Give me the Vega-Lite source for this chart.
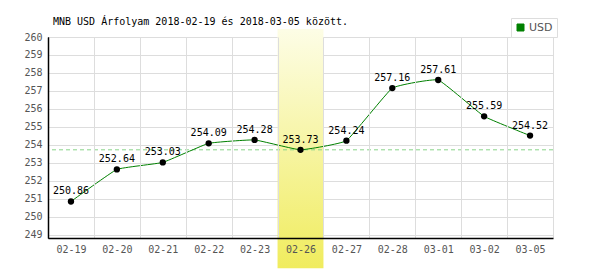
{
  "$schema": "https://vega.github.io/schema/vega-lite/v6.json",
  "width": 505,
  "height": 201,
  "autosize": {"type": "none"},
  "padding": {"left": 48, "top": 37, "right": 47, "bottom": 32},
  "background": "white",
  "title": {
    "text": "MNB USD Árfolyam 2018-02-19 és 2018-03-05 között.",
    "anchor": "start",
    "frame": "group",
    "dx": 5,
    "offset": -9,
    "font": "DejaVu Sans Mono",
    "fontSize": 10,
    "fontWeight": "normal",
    "color": "#000000"
  },
  "datasets": {
    "rates": [
      {"date": "02-19", "value": 250.86},
      {"date": "02-20", "value": 252.64},
      {"date": "02-21", "value": 253.03},
      {"date": "02-22", "value": 254.09},
      {"date": "02-23", "value": 254.28},
      {"date": "02-26", "value": 253.73},
      {"date": "02-27", "value": 254.24},
      {"date": "02-28", "value": 257.16},
      {"date": "03-01", "value": 257.61},
      {"date": "03-02", "value": 255.59},
      {"date": "03-05", "value": 254.52}
    ],
    "highlight": [{"date": "02-26", "top": 260.45, "bottom": 247.15, "ref": 253.73}]
  },
  "data": {"name": "rates"},
  "config": {
    "view": {"stroke": null}
  },
  "encoding": {
    "x": {
      "field": "date",
      "type": "ordinal",
      "title": null,
      "scale": {"type": "band", "paddingInner": 0, "paddingOuter": 0,
        "domain": ["02-19","02-20","02-21","02-22","02-23","02-26","02-27","02-28","03-01","03-02","03-05"]},
      "axis": {
        "title": null,
        "tickBand": "extent",
        "ticks": false,
        "labelAngle": 0,
        "labelPadding": 6,
        "labelFont": "DejaVu Sans Mono",
        "labelFontSize": 10,
        "labelColor": "#555555",
        "domainColor": "#000000",
        "domainWidth": 1.5,
        "zindex": 1,
        "grid": true,
        "gridColor": {"condition": {"test": "datum.index === -1", "value": "#000000"}, "value": "#dddddd"},
        "gridOpacity": 1
      }
    },
    "y": {
      "field": "value",
      "type": "quantitative",
      "title": null,
      "scale": {"domain": [248.83, 260], "nice": false, "zero": false},
      "axis": {
        "title": null,
        "values": [249,250,251,252,253,254,255,256,257,258,259,260],
        "ticks": false,
        "labelPadding": 6,
        "labelOverlap": false,
        "labelFont": "DejaVu Sans Mono",
        "labelFontSize": 10,
        "labelColor": "#555555",
        "domainColor": "#000000",
        "domainWidth": 1.5,
        "grid": true,
        "gridColor": "#dddddd",
        "gridOpacity": 1
      }
    }
  },
  "layer": [
    {
      "data": {"name": "highlight"},
      "mark": {
        "type": "rect",
        "clip": false,
        "fill": {
          "gradient": "linear",
          "x1": 0, "y1": 0, "x2": 0, "y2": 1,
          "stops": [
            {"offset": 0, "color": "#fdfde6"},
            {"offset": 1, "color": "#f0ec5e"}
          ]
        }
      },
      "encoding": {
        "y": {"field": "top", "type": "quantitative"},
        "y2": {"field": "bottom"}
      }
    },
    {
      "data": {"name": "highlight"},
      "mark": {"type": "rule", "color": "#88d488", "strokeDash": [4, 3], "strokeWidth": 1},
      "encoding": {
        "x": null,
        "y": {"field": "ref", "type": "quantitative"}
      }
    },
    {
      "mark": {"type": "line", "interpolate": "cardinal", "tension": 0.7, "strokeWidth": 1},
      "encoding": {
        "color": {
          "datum": "USD",
          "scale": {"range": ["#008000"]},
          "legend": {
            "orient": "none",
            "legendX": 463,
            "legendY": -19,
            "title": null,
            "strokeColor": "#dddddd",
            "fillColor": "#ffffff",
            "padding": 4,
            "symbolType": "square",
            "symbolSize": 49,
            "symbolFillColor": "#008000",
            "symbolStrokeColor": "#005000",
            "symbolStrokeWidth": 1,
            "labelFont": "DejaVu Sans",
            "labelFontSize": 11,
            "labelColor": "#555555",
            "labelOffset": 3,
            "encode": {
              "symbols": {"update": {"fill": {"value": "#008000"}, "stroke": {"value": "#005000"}, "shape": {"value": "square"}}}
            }
          }
        }
      }
    },
    {
      "mark": {"type": "circle", "color": "#000000", "opacity": 1, "size": 40}
    },
    {
      "mark": {"type": "text", "font": "DejaVu Sans Mono", "fontSize": 10, "color": "#000000", "dy": -7, "baseline": "alphabetic"},
      "encoding": {
        "text": {"field": "value", "type": "quantitative", "format": ".2f"}
      }
    }
  ]
}
